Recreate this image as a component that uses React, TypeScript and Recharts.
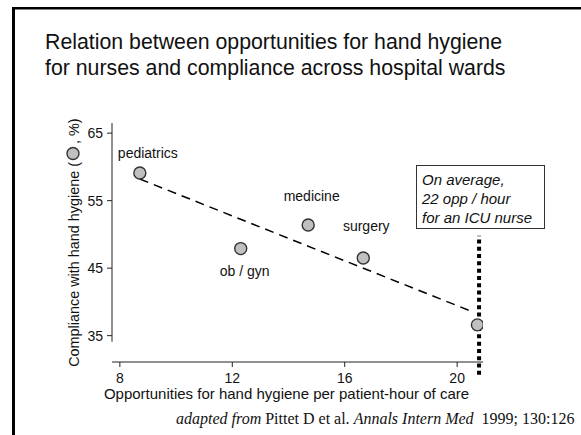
import { ScatterChart, Scatter, XAxis, YAxis, ReferenceLine } from "recharts";

const wards = ["pediatrics", "ob / gyn", "medicine", "surgery", "ICU"];
const opportunities = [8.71, 12.3, 14.7, 16.66, 20.72];
const compliance = [59.1, 47.9, 51.4, 46.5, 36.6];
const xTicks = [8, 12, 16, 20];
const yTicks = [35, 45, 55, 65];
const trendX = [8.71, 20.57];
const trendY = [58.2, 38.5];
const icuAverage = 20.78;

const data = wards.map((name, i) => ({ name, x: opportunities[i], y: compliance[i] }));

// where each ward's name sits relative to its marker
const labelPos: Record<string, { dx: number; dy: number; anchor: "start" | "middle" }> = {
  pediatrics: { dx: 8, dy: -14.5, anchor: "middle" },
  "ob / gyn": { dx: 4, dy: 27.5, anchor: "middle" },
  medicine: { dx: 3.5, dy: -23.5, anchor: "middle" },
  surgery: { dx: 3, dy: -27.5, anchor: "middle" },
  ICU: { dx: 18.5, dy: -9.5, anchor: "start" },
};

const sans = "'Liberation Sans', Arial, sans-serif";
const serif = "'Liberation Serif', 'Times New Roman', serif";

function WardMarker(props: any) {
  const { cx, cy, payload } = props;
  const p = labelPos[payload.name];
  return (
    <g>
      <circle cx={cx} cy={cy} r={6} fill="#c0c0c0" stroke="#333" strokeWidth={1.4} />
      <text x={cx + p.dx} y={cy + p.dy} textAnchor={p.anchor} fontSize={14} fill="#111" fontFamily={sans}>
        {payload.name}
      </text>
    </g>
  );
}

function Overlay() {
  return (
    <svg width={581} height={435} style={{ position: "absolute", left: 0, top: 0, pointerEvents: "none" }}>
      <rect x={12} y={7} width={3} height={428} fill="#000" />
      <rect x={12} y={7} width={569} height={2.5} fill="#000" />
      <text x={45} y={49} fontSize={21.3} fontFamily={sans} fill="#111">
        Relation between opportunities for hand hygiene
      </text>
      <text x={45} y={75} fontSize={21.3} fontFamily={sans} fill="#111">
        for nurses and compliance across hospital wards
      </text>
      <g fontFamily={sans} fontSize={14.4} fill="#111">
        <text transform="rotate(-90)" x={-162} y={79} textAnchor="end">
          Compliance with hand hygiene (
        </text>
        <text transform="rotate(-90)" x={-144} y={79} textAnchor="start">
          , %)
        </text>
      </g>
      <circle cx={73} cy={153.5} r={6} fill="#c0c0c0" stroke="#333" strokeWidth={1.4} />
      <text x={286.5} y={399} textAnchor="middle" fontSize={15} fontFamily={sans} fill="#111">
        Opportunities for hand hygiene per patient-hour of care
      </text>
      <text x={176} y={424} fontSize={16} fontFamily={serif} fill="#111" style={{ whiteSpace: "pre" }}>
        <tspan fontStyle="italic">adapted from</tspan> Pittet D et al. <tspan fontStyle="italic">Annals Intern Med</tspan>
        {"  1999; 130:126"}
      </text>
      <rect x={416.5} y={165.5} width={128} height={63} fill="#fff" stroke="#333" strokeWidth={1} />
      <g fontFamily={sans} fontSize={15} fontStyle="italic" fill="#111">
        <text x={422} y={185}>On average,</text>
        <text x={422} y={204}>22 opp / hour</text>
        <text x={422} y={223}>for an ICU nurse</text>
      </g>
    </svg>
  );
}

export default function App() {
  return (
    <div style={{ position: "absolute", left: 0, top: 0, width: 581, height: 435, background: "#fff" }}>
      <ScatterChart width={581} height={435} margin={{ top: 123, right: 98, bottom: 43, left: 60 }}>
        <XAxis
          type="number"
          dataKey="x"
          domain={[7.72, 20.92]}
          ticks={xTicks}
          allowDataOverflow
          height={30}
          tickSize={5}
          tickMargin={6}
          axisLine={{ stroke: "#222" }}
          tickLine={{ stroke: "#222" }}
          tick={{ fontSize: 14, fill: "#111", fontFamily: sans }}
        />
        <YAxis
          type="number"
          dataKey="y"
          domain={[31.1, 66.5]}
          ticks={yTicks}
          allowDataOverflow
          width={52}
          tickSize={5}
          tickMargin={4}
          axisLine={false}
          tickLine={{ stroke: "#222" }}
          tick={{ fontSize: 14, fill: "#111", fontFamily: sans }}
        />
        <ReferenceLine
          segment={[{ x: 7.72, y: 34.1 }, { x: 7.72, y: 66.5 }]}
          stroke="#222"
          strokeWidth={1}
          ifOverflow="visible"
        />
        <ReferenceLine
          segment={[{ x: trendX[0], y: trendY[0] }, { x: trendX[1], y: trendY[1] }]}
          stroke="#000"
          strokeWidth={1.5}
          strokeDasharray="9 6"
          ifOverflow="visible"
        />
        <ReferenceLine
          segment={[{ x: icuAverage, y: 29.2 }, { x: icuAverage, y: 49.8 }]}
          stroke="#000"
          strokeWidth={4}
          strokeDasharray="4 3.3"
          ifOverflow="visible"
        />
        <Scatter data={data} shape={WardMarker} isAnimationActive={false} />
      </ScatterChart>
      <Overlay />
    </div>
  );
}
